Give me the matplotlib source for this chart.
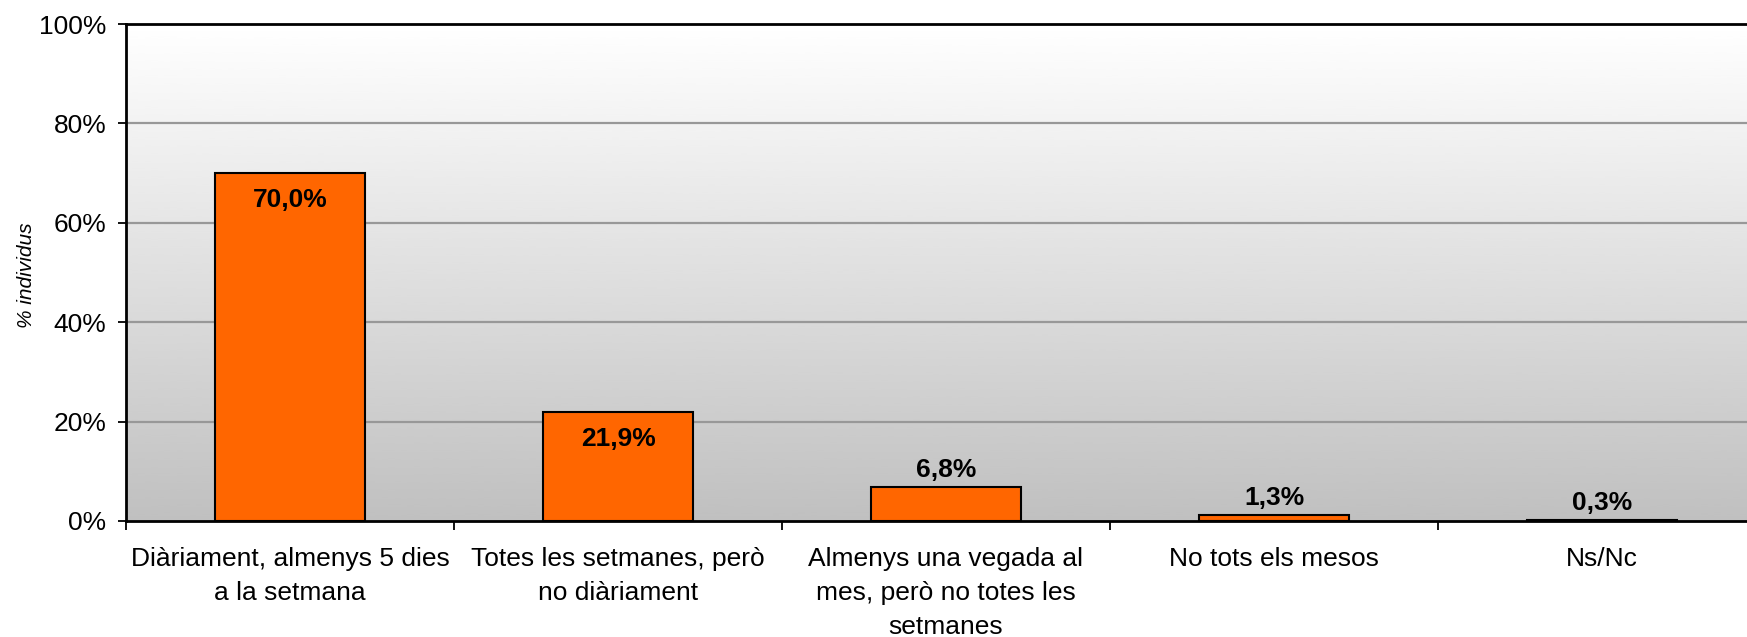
import numpy as np
import matplotlib
matplotlib.use("Agg")
import matplotlib.pyplot as plt
from matplotlib.ticker import FixedLocator, FuncFormatter

plt.rcParams['font.family'] = ['Liberation Sans', 'DejaVu Sans']

categories = [
    "Diàriament, almenys 5 dies\na la setmana",
    "Totes les setmanes, però\nno diàriament",
    "Almenys una vegada al\nmes, però no totes les\nsetmanes",
    "No tots els mesos",
    "Ns/Nc",
]
values = [70.0, 21.9, 6.8, 1.3, 0.3]
value_labels = ["70,0%", "21,9%", "6,8%", "1,3%", "0,3%"]
y_ticks = [0, 20, 40, 60, 80, 100]

W, H = 1747, 637
fig = plt.figure(figsize=(W / 100, H / 100), dpi=100)
ax = fig.add_axes([126 / W, 1 - 521 / H, 1640 / W, 497 / H])

n = len(categories)
ax.set_xlim(-0.5, n - 0.5)
ax.set_ylim(0, 100)

# vertical grey gradient behind the plot
grad = np.linspace(0xC0 / 255, 1.0, 256).reshape(-1, 1)
ax.imshow(grad, extent=(-0.5, n - 0.5, 0, 100), origin="lower", aspect="auto",
          cmap="gray", vmin=0, vmax=1, zorder=0, interpolation="bicubic")

for yv in y_ticks[1:-1]:
    ax.axhline(yv, color="#989898", lw=1.6, zorder=1)

x = np.arange(n)
ax.bar(x, values, width=0.455, color="#FF6600", edgecolor="black",
       linewidth=1.5, zorder=3)

for xi, v, lab in zip(x, values, value_labels):
    if v > 15:
        ax.annotate(lab, (xi, v), xytext=(0, -27), textcoords="offset pixels",
                    ha="center", va="center", fontsize=19, fontweight="bold",
                    zorder=4)
    else:
        ax.annotate(lab, (xi, v), xytext=(0, 17), textcoords="offset pixels",
                    ha="center", va="center", fontsize=19, fontweight="bold",
                    zorder=4)

ax.set_yticks(y_ticks)
ax.yaxis.set_major_formatter(FuncFormatter(lambda v, p: f"{int(v)}%"))
ax.tick_params(axis="y", direction="out", length=6, width=1.3, pad=8,
               labelsize=19, colors="black")

ax.set_xticks(x)
ax.set_xticklabels(categories, fontsize=19, linespacing=1.52)
ax.xaxis.set_minor_locator(FixedLocator(np.arange(-0.5, n, 1.0)))
ax.tick_params(axis="x", which="major", length=0, pad=19)
ax.tick_params(axis="x", which="minor", direction="out", length=6.5, width=1.3)

for side in ("left", "bottom", "top"):
    ax.spines[side].set_color("black")
    ax.spines[side].set_linewidth(2)
    ax.spines[side].set_zorder(5)
ax.spines["right"].set_visible(False)

fig.text(27 / W, 1 - 275 / H, "% individus", rotation=90, ha="center",
         va="center", fontsize=15, style="italic")

fig.savefig("out.png", dpi=100, facecolor="white")
